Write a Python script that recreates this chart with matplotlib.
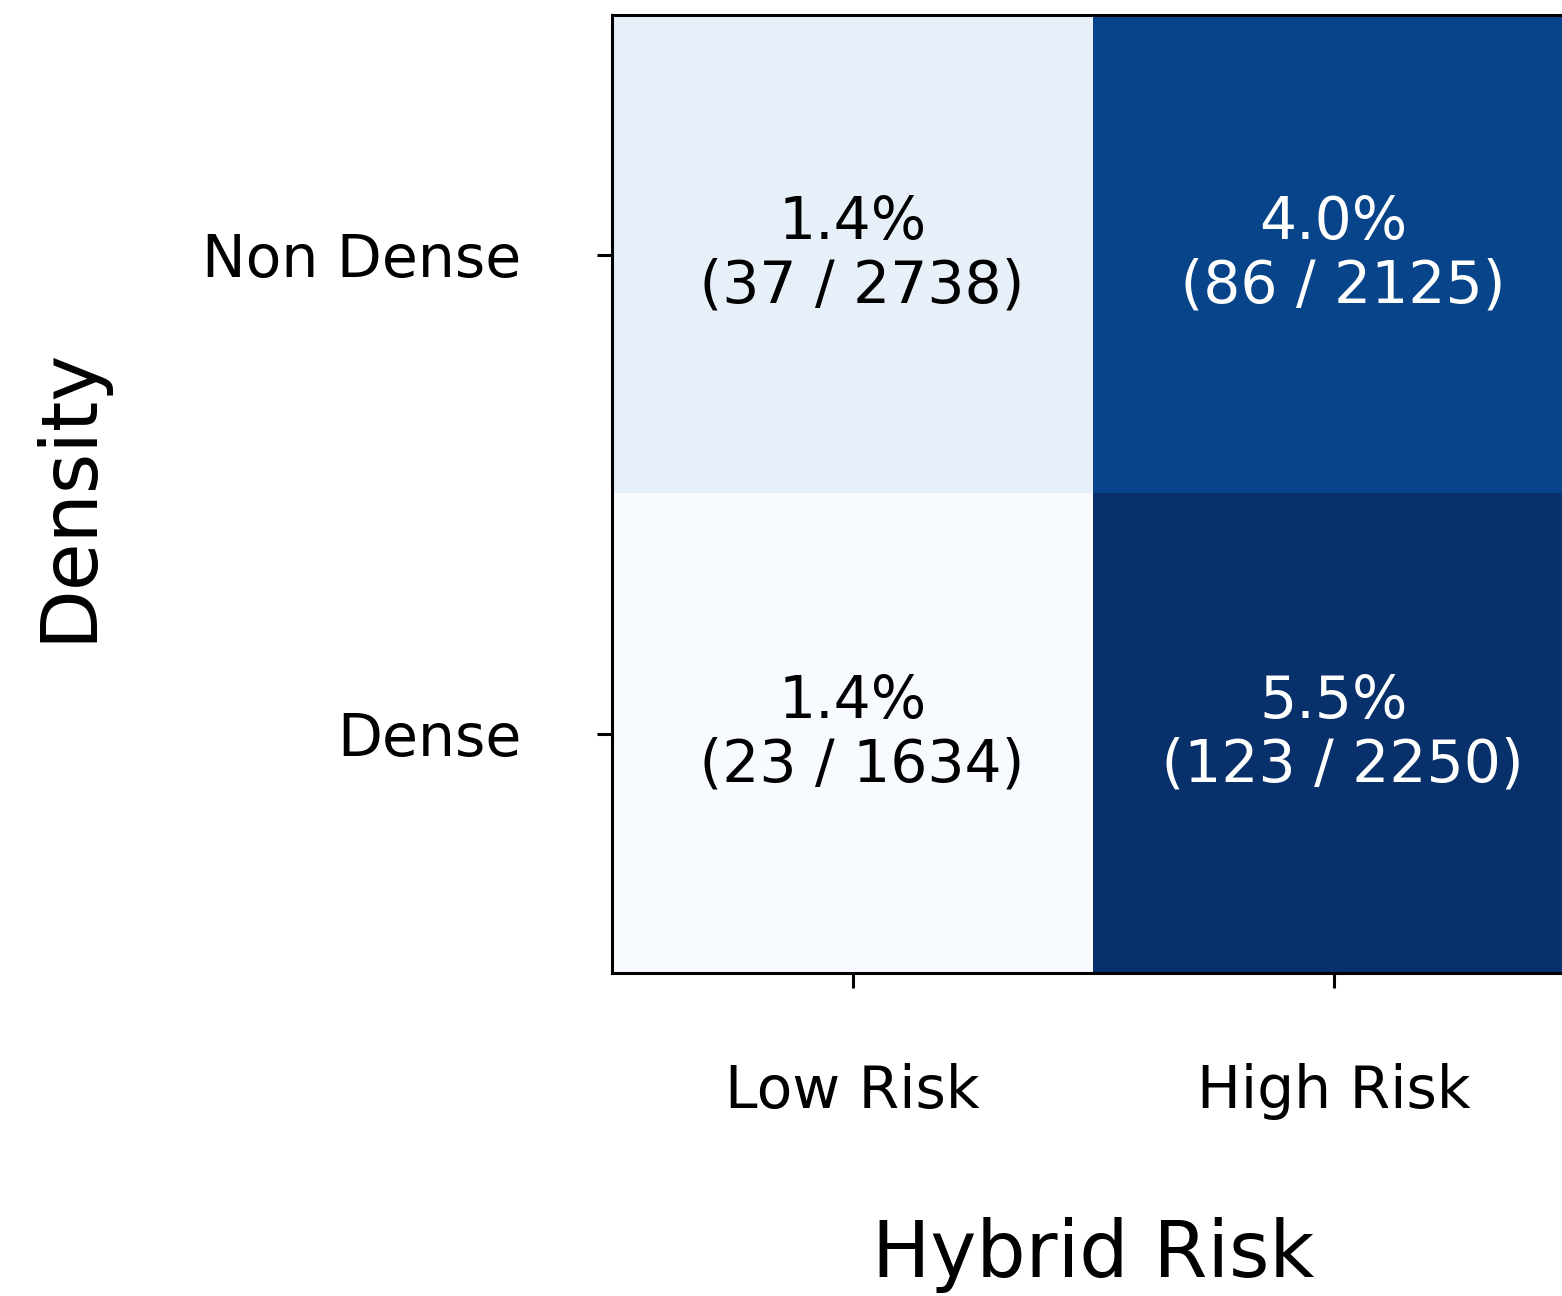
import matplotlib
matplotlib.use("Agg")
import matplotlib.pyplot as plt
import numpy as np
from matplotlib.colors import ListedColormap, BoundaryNorm

# Rows: breast density group; columns: hybrid risk group
row_labels = ["Non Dense", "Dense"]
col_labels = ["Low Risk", "High Risk"]
events = [[37, 86],
          [23, 123]]
totals = [[2738, 2125],
          [1634, 2250]]

ev = np.array(events)

# Cells shaded by event count rank on the Blues scale
order = np.sort(ev.ravel())
shades = plt.cm.Blues([0.0, 0.08, 0.92, 1.0])
cmap = ListedColormap(shades)
bounds = np.concatenate(([order[0] - 1], (order[:-1] + order[1:]) / 2, [order[-1] + 1]))
norm = BoundaryNorm(bounds, cmap.N)

fig = plt.figure(figsize=(15.62, 12.96), dpi=100)
ax = fig.add_axes([612 / 1562, 1 - 973 / 1296, (1574 - 612) / 1562, (973 - 15) / 1296])
ax.imshow(ev, cmap=cmap, norm=norm, aspect="auto", interpolation="nearest")

for i in range(2):
    for j in range(2):
        pct = 100 * events[i][j] / totals[i][j]
        color = "white" if j == 1 else "black"
        ax.text(j, i, f"{pct:.1f}%\n ({events[i][j]} / {totals[i][j]})",
                ha="center", va="center", fontsize=42, color=color,
                linespacing=1.15)

ax.set_xticks([0, 1])
ax.set_xticklabels(col_labels)
ax.set_yticks([0, 1])
ax.set_yticklabels(row_labels)
ax.tick_params(axis="both", labelsize=42, length=11, width=2.2, pad=54)
for s in ax.spines.values():
    s.set_linewidth(2.2)

ax.set_xlabel("Hybrid Risk", fontsize=56)
ax.set_ylabel("Density", fontsize=56)
ax.xaxis.set_label_coords(0.5, (973 - 1217) / 958)
ax.yaxis.set_label_coords((106 - 612) / 962, 0.5)

fig.savefig("out.png", dpi=100)
